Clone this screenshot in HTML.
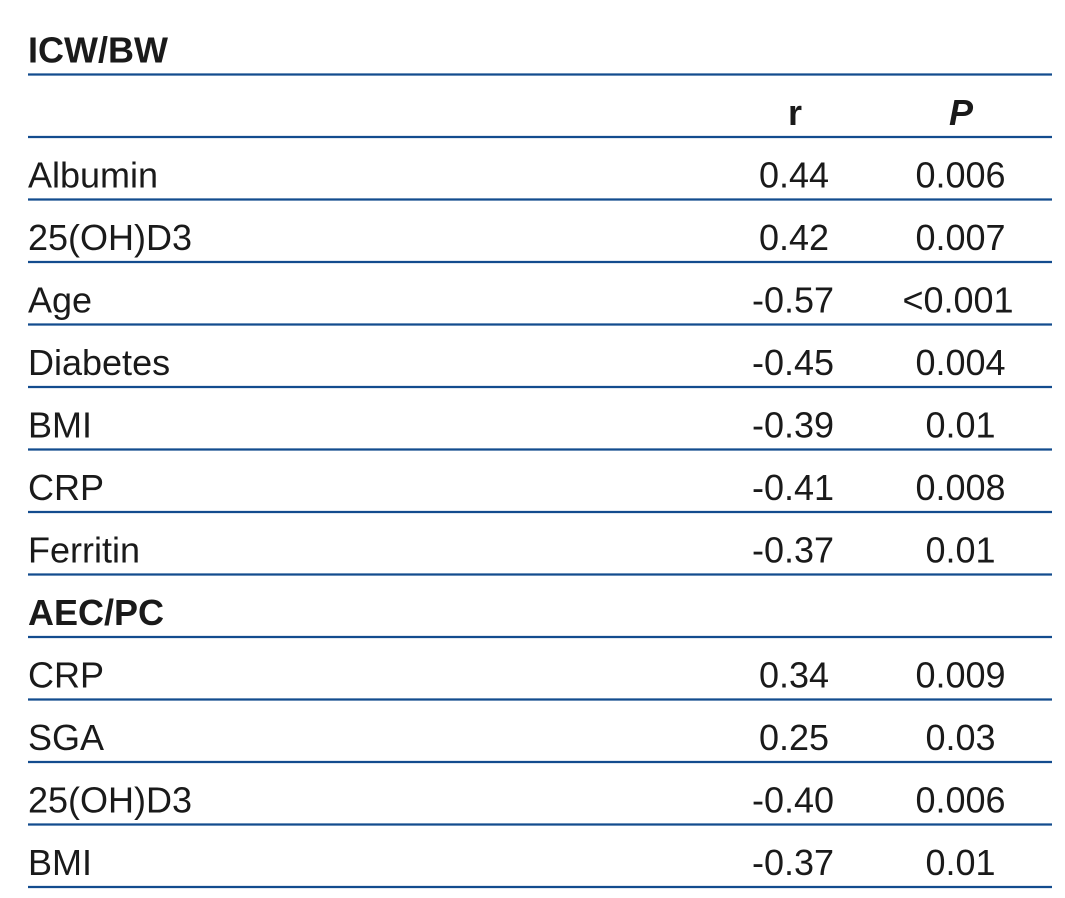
<!DOCTYPE html>
<html>
<head>
<meta charset="utf-8">
<style>
html,body{margin:0;padding:0;background:#fff;}
svg{display:block;}
text{font-family:"Liberation Sans",sans-serif;font-size:36px;fill:#1a1a1a;}
.b{font-weight:bold;}
.c{text-anchor:middle;}
</style>
</head>
<body>
<svg width="1065" height="898" viewBox="0 0 1065 898" xmlns="http://www.w3.org/2000/svg">
<g stroke="#134c8e" stroke-width="2.2">
<line x1="28" x2="1052" y1="74.5" y2="74.5"/>
<line x1="28" x2="1052" y1="137" y2="137"/>
<line x1="28" x2="1052" y1="199.5" y2="199.5"/>
<line x1="28" x2="1052" y1="262" y2="262"/>
<line x1="28" x2="1052" y1="324.5" y2="324.5"/>
<line x1="28" x2="1052" y1="387" y2="387"/>
<line x1="28" x2="1052" y1="449.5" y2="449.5"/>
<line x1="28" x2="1052" y1="512" y2="512"/>
<line x1="28" x2="1052" y1="574.5" y2="574.5"/>
<line x1="28" x2="1052" y1="637" y2="637"/>
<line x1="28" x2="1052" y1="699.5" y2="699.5"/>
<line x1="28" x2="1052" y1="762" y2="762"/>
<line x1="28" x2="1052" y1="824.5" y2="824.5"/>
<line x1="28" x2="1052" y1="887" y2="887"/>
</g>
<text class="b" x="28" y="62.5">ICW/BW</text>
<text class="b c" x="795" y="125">r</text>
<text class="b c" x="961" y="125" font-style="italic">P</text>

<text x="28" y="187.5">Albumin</text><text class="c" x="794" y="187.5">0.44</text><text class="c" x="960.5" y="187.5">0.006</text>
<text x="28" y="250">25(OH)D3</text><text class="c" x="794" y="250">0.42</text><text class="c" x="960.5" y="250">0.007</text>
<text x="28" y="312.5">Age</text><text class="c" x="793" y="312.5">-0.57</text><text class="c" x="958" y="312.5">&lt;0.001</text>
<text x="28" y="375">Diabetes</text><text class="c" x="793" y="375">-0.45</text><text class="c" x="960.5" y="375">0.004</text>
<text x="28" y="437.5">BMI</text><text class="c" x="793" y="437.5">-0.39</text><text class="c" x="960.5" y="437.5">0.01</text>
<text x="28" y="500">CRP</text><text class="c" x="793" y="500">-0.41</text><text class="c" x="960.5" y="500">0.008</text>
<text x="28" y="562.5">Ferritin</text><text class="c" x="793" y="562.5">-0.37</text><text class="c" x="960.5" y="562.5">0.01</text>

<text class="b" x="28" y="625">AEC/PC</text>
<text x="28" y="687.5">CRP</text><text class="c" x="794" y="687.5">0.34</text><text class="c" x="960.5" y="687.5">0.009</text>
<text x="28" y="750">SGA</text><text class="c" x="794" y="750">0.25</text><text class="c" x="960.5" y="750">0.03</text>
<text x="28" y="812.5">25(OH)D3</text><text class="c" x="793" y="812.5">-0.40</text><text class="c" x="960.5" y="812.5">0.006</text>
<text x="28" y="875">BMI</text><text class="c" x="793" y="875">-0.37</text><text class="c" x="960.5" y="875">0.01</text>
</svg>
</body>
</html>
